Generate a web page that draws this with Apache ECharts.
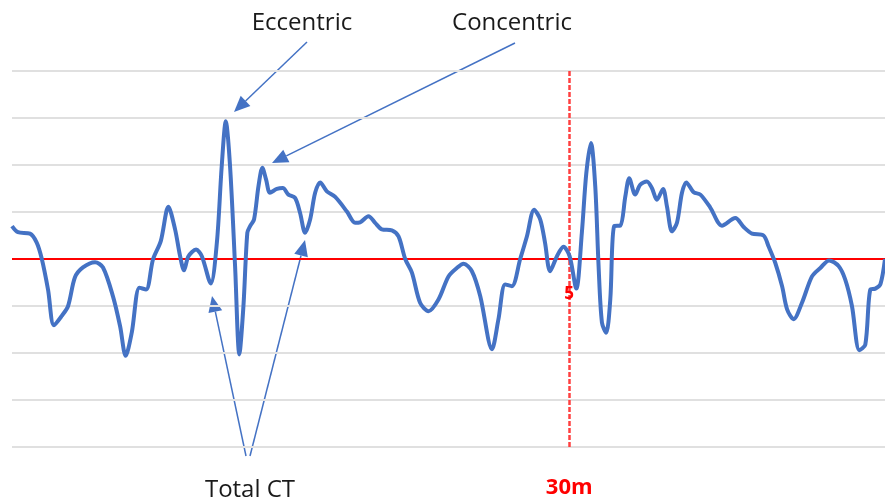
<!DOCTYPE html>
<html>
<head>
<meta charset="utf-8">
<script src="https://cdn.jsdelivr.net/npm/echarts@6/dist/echarts.min.js"></script>
<style>
  html, body { margin: 0; padding: 0; background: #fff; }
  #main { width: 885px; height: 504px; }
</style>
</head>
<body>
<div id="main"></div>
<script>
// time in minutes
var times = [0, 0.32, 0.97, 1.33, 1.60, 1.94, 2.26, 2.68, 3.02, 3.39, 3.82, 4.47, 4.90, 5.44, 5.82, 6.12, 6.45, 6.86, 7.22, 7.59,
  8.01, 8.42, 8.78, 9.05, 9.26, 9.50, 9.91, 10.22, 10.70, 11.03, 11.29, 11.51, 11.74, 12.01, 12.24, 12.46, 12.67, 12.82, 13.03, 13.27,
  13.48, 13.68, 13.89, 14.26, 14.58, 14.88, 15.24, 15.51, 15.78, 16.05, 16.32, 16.59, 16.95, 17.40, 18.03, 18.47, 18.74, 19.19, 19.55, 19.91,
  20.45, 20.81, 21.17, 21.53, 21.97, 22.42, 22.96, 23.50, 23.95, 24.31, 24.76, 25.21, 25.84, 26.19, 26.55, 26.91, 27.36, 27.72, 28.11, 28.44,
  28.70, 28.97, 29.34, 29.69, 30.02, 30.38, 30.68, 30.92, 31.17, 31.40, 31.58, 31.76, 31.99, 32.21, 32.42, 32.75, 33.02, 33.23, 33.55, 33.82,
  34.18, 34.45, 34.72, 35.05, 35.26, 35.53, 35.80, 36.07, 36.30, 36.70, 37.06, 37.60, 38.22, 38.94, 39.39, 39.84, 40.46, 40.73, 41.09, 41.46,
  41.73, 42.08, 42.53, 43.07, 43.52, 43.99, 44.50, 44.86, 45.22, 45.62, 45.94, 46.21, 46.48, 46.75, 47];
var values = [5.70, 5.57, 5.54, 5.35, 5.01, 4.35, 3.59, 3.79, 4.00, 4.61, 4.82, 4.93, 4.82, 4.20, 3.57, 2.94, 3.44, 4.39, 4.35, 4.99,
  5.38, 6.11, 5.63, 5.06, 4.76, 5.06, 5.20, 5.06, 4.48, 5.35, 6.97, 7.93, 6.97, 4.85, 2.97, 4.00, 5.56, 5.70, 5.84, 6.55,
  6.94, 6.69, 6.41, 6.49, 6.51, 6.37, 6.30, 5.98, 5.56, 5.84, 6.41, 6.63, 6.44, 6.32, 6.01, 5.77, 5.78, 5.91, 5.77, 5.63,
  5.61, 5.48, 5.00, 4.71, 4.07, 3.89, 4.14, 4.63, 4.81, 4.90, 4.74, 4.21, 3.08, 3.72, 4.46, 4.42, 5.00, 5.48, 6.05, 5.84,
  5.34, 4.74, 5.06, 5.26, 5.06, 4.37, 5.56, 6.83, 7.47, 6.55, 4.85, 3.65, 3.43, 4.14, 5.70, 5.71, 6.33, 6.72, 6.37, 6.58,
  6.65, 6.51, 6.26, 6.49, 6.12, 5.59, 5.77, 6.41, 6.63, 6.42, 6.37, 6.09, 5.71, 5.87, 5.68, 5.54, 5.50, 5.27, 4.92, 4.42,
  3.93, 3.72, 4.07, 4.63, 4.81, 4.97, 4.85, 4.56, 4.00, 3.06, 3.18, 4.35, 4.37, 4.46, 5.00];
var baseLine = 5;      // red horizontal reference
var markTime = 30;     // dashed vertical marker
var markTimeLabel = '30m';
var baseLabel = '5';

var blue = '#4472c4';
var font = '"Open Sans", "Noto Sans", sans-serif';

// thin arrow: line + filled head, pixel coords
function arrow(x1, y1, x2, y2) {
    var a = Math.atan2(y2 - y1, x2 - x1);
    var len = 16, w = 7;
    var bx = x2 - len * Math.cos(a), by = y2 - len * Math.sin(a);
    return [
        { type: 'line', shape: { x1: x1, y1: y1, x2: bx, y2: by }, style: { stroke: blue, lineWidth: 1.5 } },
        { type: 'polygon', shape: { points: [[x2, y2], [bx + w * Math.sin(a), by - w * Math.cos(a)], [bx - w * Math.sin(a), by + w * Math.cos(a)]] },
          style: { fill: blue } }
    ];
}

var myChart = echarts.init(document.getElementById('main'));

var graphics = [].concat(
    arrow(307, 42, 234, 112),
    arrow(515, 43, 272, 163),
    arrow(246, 456, 212, 296),
    arrow(250, 456, 305, 240),
    [
        { type: 'text', x: 302, y: 23, style: { text: 'Eccentric', font: '24px ' + font, fill: '#1a1a1a', align: 'center', verticalAlign: 'middle' } },
        { type: 'text', x: 512, y: 23, style: { text: 'Concentric', font: '24px ' + font, fill: '#1a1a1a', align: 'center', verticalAlign: 'middle' } },
        { type: 'text', x: 250, y: 490, style: { text: 'Total CT', font: '24px ' + font, fill: '#1a1a1a', align: 'center', verticalAlign: 'middle' } }
    ]
);

var option = {
    animation: false,
    grid: { left: 12, right: 0, top: 71, bottom: 57 },
    xAxis: {
        type: 'value',
        min: 0,
        max: 47,
        show: false
    },
    yAxis: {
        type: 'value',
        min: 1,
        max: 9,
        interval: 1,
        axisLine: { show: false },
        axisTick: { show: false },
        axisLabel: { show: false },
        splitLine: { lineStyle: { color: '#e0e0e0', width: 2 } }
    },
    graphic: graphics,
    series: [{
        type: 'line',
        data: times.map(function (t, i) { return [t, values[i]]; }),
        smooth: 0.3,
        showSymbol: false,
        lineStyle: { color: blue, width: 4 },
        z: 3,
        markLine: {
            silent: true,
            symbol: 'none',
            z: 2,
            data: [
                { yAxis: baseLine, lineStyle: { color: '#ff0000', width: 2, type: 'solid' }, label: { show: false } },
                { xAxis: markTime, lineStyle: { color: '#ff4040', width: 2.5, type: [5, 2] },
                  label: { show: true, position: 'start', distance: 30, formatter: markTimeLabel,
                           color: '#ff0000', fontWeight: 'bold', fontSize: 22, fontFamily: font } }
            ]
        },
        markPoint: {
            silent: true,
            symbolSize: 0,
            data: [{ coord: [markTime, 4.25], value: baseLabel }],
            label: { show: true, formatter: baseLabel, color: '#ff0000', fontWeight: 'bold', fontSize: 17, fontFamily: font }
        }
    }]
};
myChart.setOption(option);
</script>
</body>
</html>
